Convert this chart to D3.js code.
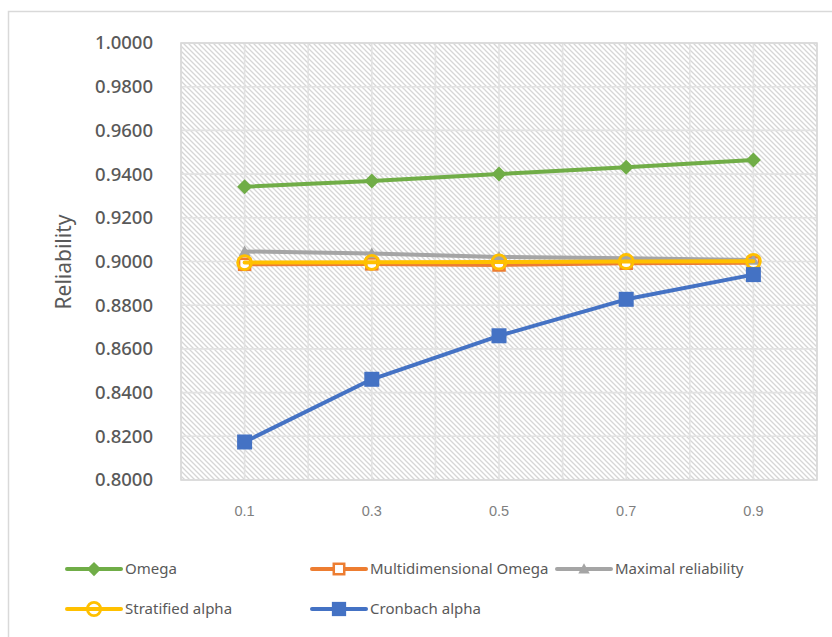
<!DOCTYPE html>
<html>
<head>
<meta charset="utf-8">
<script src="https://cdn.jsdelivr.net/npm/d3@7"></script>
<style>
  html, body { margin: 0; padding: 0; background: #fff; }
  svg { display: block; }
</style>
</head>
<body>
<svg id="chart" width="832" height="637"></svg>
<script>
// Loading levels on the x axis
const categories = ["0.1", "0.3", "0.5", "0.7", "0.9"];

// Reliability estimates per series
const omega = [0.9342, 0.9368, 0.9400, 0.9431, 0.9464];
const multidimensionalOmega = [0.8987, 0.8989, 0.8984, 0.8992, 0.8994];
const maximalReliability = [0.9046, 0.9037, 0.9021, 0.9015, 0.9007];
const stratifiedAlpha = [0.8995, 0.8996, 0.8998, 0.9000, 0.9001];
const cronbachAlpha = [0.8174, 0.8461, 0.8660, 0.8827, 0.8940];

const yTicks = [0.80, 0.82, 0.84, 0.86, 0.88, 0.90, 0.92, 0.94, 0.96, 0.98, 1.00];

const series = [
  { name: "Omega", values: omega, color: "#70ad47", marker: "diamond" },
  { name: "Multidimensional Omega", values: multidimensionalOmega, color: "#ed7d31", marker: "openSquare" },
  { name: "Maximal reliability", values: maximalReliability, color: "#a5a5a5", marker: "triangle" },
  { name: "Stratified alpha", values: stratifiedAlpha, color: "#ffc000", marker: "openCircle" },
  { name: "Cronbach alpha", values: cronbachAlpha, color: "#4472c4", marker: "square" }
];

const svg = d3.select("#chart");
const plot = { left: 181, right: 817, top: 43, bottom: 480 };

const x = d3.scaleBand().domain(categories).range([plot.left, plot.right]).padding(0);
const y = d3.scaleLinear().domain([0.8, 1.0]).range([plot.bottom, plot.top]);

// Outer chart frame
svg.append("rect")
  .attr("x", 8.5).attr("y", 11.5)
  .attr("width", 840).attr("height", 640)
  .attr("fill", "#fff").attr("stroke", "#d9d9d9").attr("stroke-width", 1.5);

// Diagonal hatch fill for the plot area
const defs = svg.append("defs");
const pat = defs.append("pattern")
  .attr("id", "hatch").attr("patternUnits", "userSpaceOnUse")
  .attr("width", 5).attr("height", 5);
pat.append("rect").attr("width", 5).attr("height", 5).attr("fill", "#fff");
pat.append("path")
  .attr("d", "M-1,-1 L6,6 M-1,4 L1,6 M4,-1 L6,1")
  .attr("stroke", "#d6d6d6").attr("stroke-width", 1.3);

svg.append("rect")
  .attr("x", plot.left).attr("y", plot.top)
  .attr("width", plot.right - plot.left).attr("height", plot.bottom - plot.top)
  .attr("fill", "url(#hatch)");

// Gridlines: horizontal at each tick, vertical at band edges and centres
const grid = svg.append("g").attr("stroke", "#e2e2e2").attr("stroke-width", 1.6);
yTicks.forEach(t => {
  grid.append("line")
    .attr("x1", plot.left).attr("x2", plot.right)
    .attr("y1", y(t)).attr("y2", y(t));
});
const vx = [];
categories.forEach(c => { vx.push(x(c)); vx.push(x(c) + x.bandwidth() / 2); });
vx.push(x(categories[categories.length - 1]) + x.bandwidth());
vx.forEach(v => {
  grid.append("line")
    .attr("x1", v).attr("x2", v)
    .attr("y1", plot.top).attr("y2", plot.bottom);
});

// Plot border
svg.append("rect")
  .attr("x", plot.left).attr("y", plot.top)
  .attr("width", plot.right - plot.left).attr("height", plot.bottom - plot.top)
  .attr("fill", "none").attr("stroke", "#d9d9d9").attr("stroke-width", 1.6);

// Y axis
const yAxis = d3.axisLeft(y).tickValues(yTicks).tickFormat(d3.format(".4f")).tickSize(0).tickPadding(28);
const yg = svg.append("g").attr("transform", `translate(${plot.left},0)`).call(yAxis);
yg.select(".domain").remove();
yg.selectAll("text")
  .attr("font-family", "'Noto Sans', 'DejaVu Sans', sans-serif")
  .attr("font-size", 18.5).attr("font-weight", 500).attr("fill", "#595959");

// X axis
const xAxis = d3.axisBottom(x).tickSize(0).tickPadding(26);
const xg = svg.append("g").attr("transform", `translate(0,${plot.bottom})`).call(xAxis);
xg.select(".domain").remove();
xg.selectAll("text")
  .attr("font-family", "'Liberation Sans Narrow', 'Liberation Sans', Arial, sans-serif")
  .attr("font-size", 14.5).attr("fill", "#7f7f7f");

// Y axis title
svg.append("text")
  .attr("transform", `translate(71,262) rotate(-90)`)
  .attr("text-anchor", "middle")
  .attr("font-family", "'Noto Sans', 'DejaVu Sans', sans-serif")
  .attr("font-size", 21).attr("fill", "#595959")
  .text("Reliability");

// Marker drawing
function drawMarker(g, kind, color, cx, cy, scale) {
  const s = scale || 1;
  if (kind === "diamond") {
    const r = 7.5 * s;
    g.append("path")
      .attr("d", `M${cx},${cy - r} L${cx + r},${cy} L${cx},${cy + r} L${cx - r},${cy} Z`)
      .attr("fill", color);
  } else if (kind === "openSquare") {
    const h = 5.5 * s;
    g.append("rect")
      .attr("x", cx - h).attr("y", cy - h).attr("width", 2 * h).attr("height", 2 * h)
      .attr("fill", "#fff").attr("stroke", color).attr("stroke-width", 2.5);
  } else if (kind === "triangle") {
    const h = 6 * s;
    g.append("path")
      .attr("d", `M${cx},${cy - h} L${cx + h},${cy + h * 0.8} L${cx - h},${cy + h * 0.8} Z`)
      .attr("fill", color);
  } else if (kind === "openCircle") {
    g.append("circle")
      .attr("cx", cx).attr("cy", cy).attr("r", 7 * s)
      .attr("fill", "none").attr("stroke", color).attr("stroke-width", 2.8);
  } else if (kind === "square") {
    const h = 7.5 * s;
    g.append("rect")
      .attr("x", cx - h).attr("y", cy - h).attr("width", 2 * h).attr("height", 2 * h)
      .attr("fill", color);
  }
}

const xc = c => x(c) + x.bandwidth() / 2;
const line = d3.line().x((d, i) => xc(categories[i])).y(d => y(d));

series.forEach(s => {
  const g = svg.append("g");
  g.append("path")
    .datum(s.values)
    .attr("d", line)
    .attr("fill", "none").attr("stroke", s.color)
    .attr("stroke-width", 4).attr("stroke-linejoin", "round").attr("stroke-linecap", "round");
  s.values.forEach((v, i) => drawMarker(g, s.marker, s.color, xc(categories[i]), y(v)));
});

// Legend
const legendPos = [
  { x: 67, y: 569 }, { x: 312, y: 569 }, { x: 557, y: 569 },
  { x: 67, y: 609 }, { x: 312, y: 609 }
];
series.forEach((s, i) => {
  const p = legendPos[i];
  const g = svg.append("g");
  g.append("line")
    .attr("x1", p.x).attr("x2", p.x + 54).attr("y1", p.y).attr("y2", p.y)
    .attr("stroke", s.color).attr("stroke-width", 4).attr("stroke-linecap", "round");
  drawMarker(g, s.marker, s.color, p.x + 27, p.y, 0.95);
  g.append("text")
    .attr("x", p.x + 58).attr("y", p.y).attr("dy", "0.35em")
    .attr("font-family", "'Noto Sans', 'DejaVu Sans', sans-serif")
    .attr("font-size", 15).attr("fill", "#595959")
    .text(s.name);
});
</script>
</body>
</html>
